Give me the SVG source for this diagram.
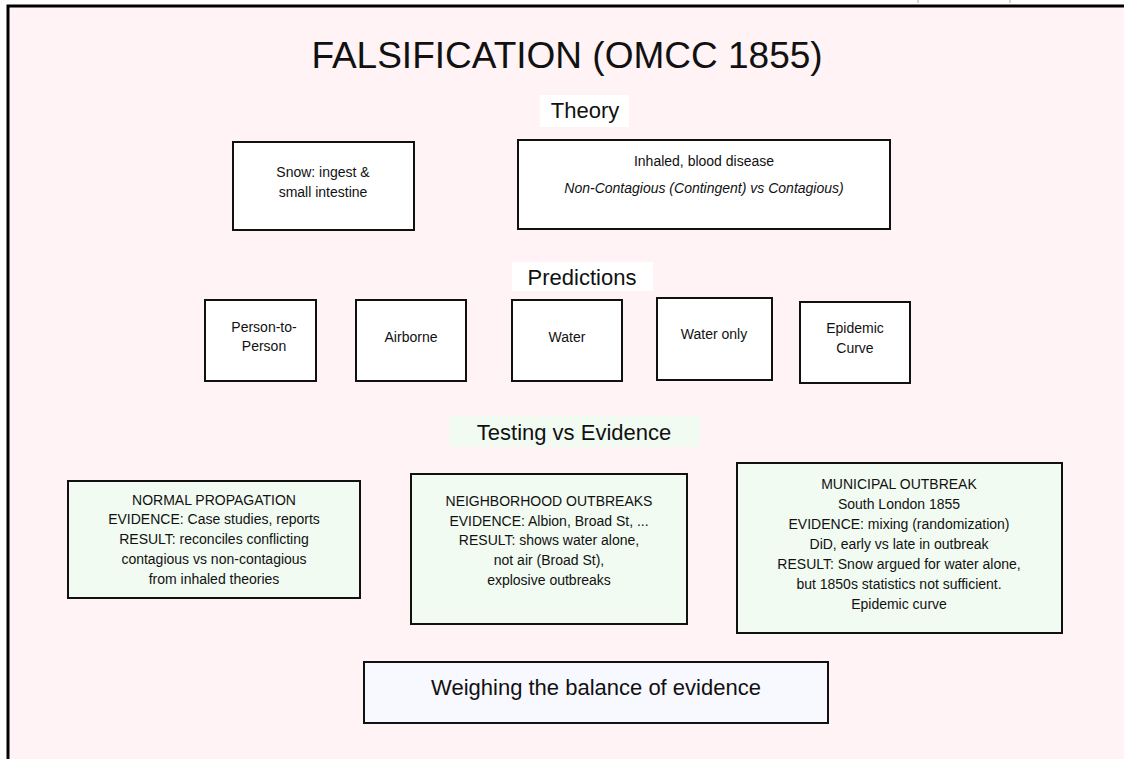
<svg xmlns="http://www.w3.org/2000/svg" width="1124" height="759" viewBox="0 0 1124 759">
<style>
text{font-family:"Liberation Sans",Arial,sans-serif;fill:#111;text-anchor:middle}
.box{fill:#fff;stroke:#111;stroke-width:2}
.ev{fill:#f1fbf1;stroke:#111;stroke-width:2}
.s{font-size:14px}
.h{font-size:22px}
</style>
<rect x="0" y="0" width="1124" height="759" fill="#fff"/>
<line x1="918" y1="0" x2="918" y2="3" stroke="#aaa" stroke-width="1"/>
<line x1="1010" y1="0" x2="1010" y2="3" stroke="#aaa" stroke-width="1"/>
<rect x="8" y="6" width="1200" height="800" fill="#fff3f6" stroke="#000" stroke-width="3"/>
<g id="connectors"></g>
<g id="title"><text x="567" y="68" style="font-size:37px">FALSIFICATION (OMCC 1855)</text></g>
<g id="theory-label"><rect x="540" y="95" width="89" height="32" fill="#fff"/><text class="h" x="585" y="118">Theory</text></g>
<g id="snow"><rect class="box" x="233" y="142" width="181" height="88"/><text class="s" x="323" y="177">Snow: ingest &amp;</text><text class="s" x="323" y="197">small intestine</text></g>
<g id="inhaled"><rect class="box" x="518" y="140" width="372" height="89"/><text class="s" x="704" y="166">Inhaled, blood disease</text><text class="s" x="704" y="193" font-style="italic">Non-Contagious (Contingent) vs Contagious)</text></g>
<g id="predictions-label"><rect x="512" y="262" width="141" height="29" fill="#fff"/><text class="h" x="582" y="285">Predictions</text></g>
<g id="p1"><rect class="box" x="205" y="300" width="111" height="81"/><text class="s" x="264" y="332">Person-to-</text><text class="s" x="264" y="351">Person</text></g>
<g id="p2"><rect class="box" x="356" y="300" width="110" height="81"/><text class="s" x="411" y="342">Airborne</text></g>
<g id="p3"><rect class="box" x="512" y="300" width="110" height="81"/><text class="s" x="567" y="342">Water</text></g>
<g id="p4"><rect class="box" x="657" y="298" width="115" height="82"/><text class="s" x="714" y="339">Water only</text></g>
<g id="p5"><rect class="box" x="800" y="302" width="110" height="81"/><text class="s" x="855" y="333">Epidemic</text><text class="s" x="855" y="353">Curve</text></g>
<g id="testing-label"><rect x="449" y="416" width="251" height="31" fill="#f1fbf1"/><text class="h" x="574" y="440">Testing vs Evidence</text></g>
<g id="normal"><rect class="ev" x="68" y="481" width="292" height="117"/>
<text class="s" x="214" y="505">NORMAL PROPAGATION</text><text class="s" x="214" y="524">EVIDENCE: Case studies, reports</text><text class="s" x="214" y="544">RESULT: reconciles conflicting</text><text class="s" x="214" y="564">contagious vs non-contagious</text><text class="s" x="214" y="584">from inhaled theories</text></g>
<g id="neighborhood"><rect class="ev" x="411" y="474" width="276" height="150"/>
<text class="s" x="549" y="506">NEIGHBORHOOD OUTBREAKS</text><text class="s" x="549" y="526">EVIDENCE: Albion, Broad St, ...</text><text class="s" x="549" y="545">RESULT: shows water alone,</text><text class="s" x="549" y="565">not air (Broad St),</text><text class="s" x="549" y="585">explosive outbreaks</text></g>
<g id="municipal"><rect class="ev" x="737" y="463" width="325" height="170"/>
<text class="s" x="899" y="489">MUNICIPAL OUTBREAK</text><text class="s" x="899" y="509">South London 1855</text><text class="s" x="899" y="529">EVIDENCE: mixing (randomization)</text><text class="s" x="899" y="549">DiD, early vs late in outbreak</text><text class="s" x="899" y="569">RESULT: Snow argued for water alone,</text><text class="s" x="899" y="589">but 1850s statistics not sufficient.</text><text class="s" x="899" y="609">Epidemic curve</text></g>
<g id="weighing"><rect x="364" y="662" width="464" height="61" fill="#f8f8ff" stroke="#111" stroke-width="2"/><text x="596" y="695" style="font-size:22px">Weighing the balance of evidence</text></g>
</svg>
